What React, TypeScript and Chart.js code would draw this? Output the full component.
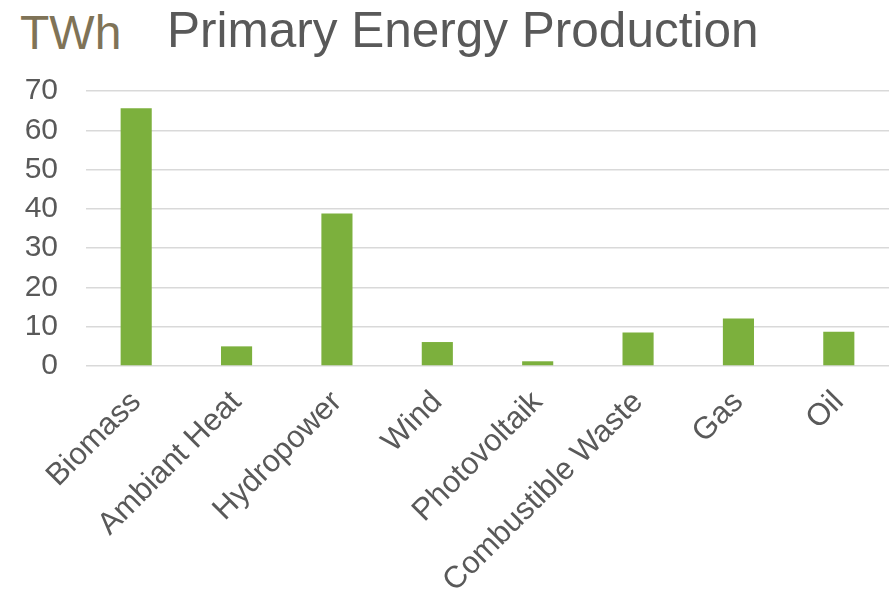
import React, { useEffect, useRef } from "react";
import { Chart, registerables } from "chart.js";

Chart.register(...registerables);

const categories = [
  "Biomass",
  "Ambiant Heat",
  "Hydropower",
  "Wind",
  "Photovoltaik",
  "Combustible Waste",
  "Gas",
  "Oil",
];
const production = [65.6, 5.0, 38.8, 6.1, 1.2, 8.5, 12.1, 8.7];
const yTicks = [0, 10, 20, 30, 40, 50, 60, 70];
const chartTitle = "Primary Energy Production";
const unitLabel = "TWh";

const FONT = "'Liberation Sans', Arial, sans-serif";

export default function App() {
  const canvasRef = useRef<HTMLCanvasElement | null>(null);

  useEffect(() => {
    if (!canvasRef.current) return;
    const chart = new Chart(canvasRef.current, {
      type: "bar",
      data: {
        labels: categories,
        datasets: [
          {
            data: production,
            backgroundColor: "#7CB03D",
            borderWidth: 0,
            categoryPercentage: 1,
            barPercentage: 0.31,
          },
        ],
      },
      options: {
        animation: false,
        responsive: true,
        maintainAspectRatio: false,
        layout: { padding: { top: 91, right: 7, left: 0, bottom: 0 } },
        plugins: {
          legend: { display: false },
          tooltip: { enabled: false },
          title: { display: false },
        },
        scales: {
          x: {
            offset: true,
            grid: { display: false, drawTicks: false },
            border: { display: false },
            afterFit: (scale: any) => {
              scale.height = 231;
            },
            ticks: {
              autoSkip: false,
              maxRotation: 45,
              minRotation: 45,
              padding: 18,
              color: "#595959",
              font: { family: FONT, size: 31 },
            },
          },
          y: {
            min: 0,
            max: 70,
            afterBuildTicks: (scale: any) => {
              scale.ticks = yTicks.map((v) => ({ value: v }));
            },
            afterFit: (scale: any) => {
              scale.width = 86;
            },
            grid: { color: "#D9D9D9", lineWidth: 1.5, drawTicks: false },
            border: { display: false },
            ticks: {
              padding: 28,
              color: "#595959",
              font: { family: FONT, size: 30 },
            },
          },
        },
      },
    });
    return () => chart.destroy();
  }, []);

  return (
    <div
      style={{
        position: "fixed",
        left: 0,
        top: 0,
        width: 896,
        height: 597,
        background: "#ffffff",
      }}
    >
      <div
        style={{
          position: "absolute",
          left: 20,
          top: 9,
          fontFamily: FONT,
          fontSize: 48,
          lineHeight: "48px",
          color: "#7F7357",
          whiteSpace: "nowrap",
        }}
      >
        {unitLabel}
      </div>
      <div
        style={{
          position: "absolute",
          left: 167,
          top: 5,
          fontFamily: FONT,
          fontSize: 49.5,
          lineHeight: "49.5px",
          color: "#595959",
          whiteSpace: "nowrap",
        }}
      >
        {chartTitle}
      </div>
      <canvas ref={canvasRef} style={{ position: "absolute", left: 0, top: 0 }} />
    </div>
  );
}
